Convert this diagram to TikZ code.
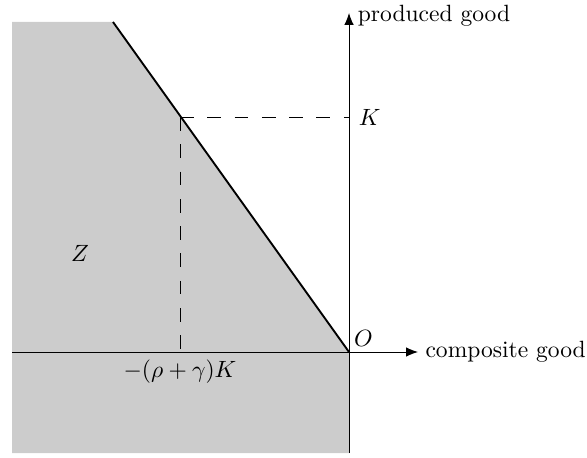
\documentclass[tikz,border=0pt]{standalone}
\usetikzlibrary{arrows.meta}
\begin{document}
\begin{tikzpicture}[x=0.425pt,y=-0.425pt,
  axis/.style={line width=0.4pt,-{Latex[length=5pt,width=4pt]}},
  dsh/.style={line width=0.4pt,dash pattern=on 5.8pt off 5.8pt},
  bound/.style={line width=0.8pt},
  region/.style={fill=black!20}]
\useasboundingbox (0,0) rectangle (587,458);
\coordinate (O) at (349,352);
\coordinate (T) at (113,22);
\coordinate (P) at (180,117);
\coordinate (Kp) at (349,117);
\coordinate (Xp) at (180,352);
\coordinate (xl) at (12,352);
\coordinate (xr) at (418,352);
\coordinate (yb) at (349,453);
\coordinate (yt) at (349,13);
\fill[region] (12,22) -- (T) -- (O) -- (yb) -- (12,453) -- cycle;
\draw[axis] (xl) -- (xr);
\draw[axis] (yb) -- (yt);
\draw[bound] (T) -- (O);
\draw[dsh] (P) -- (Kp);
\draw[dsh] (P) -- (Xp);
\node[anchor=west,inner sep=1pt] (xlab) at ([xshift=2pt]xr) {composite good};
\node[anchor=west,inner sep=1pt] (ylab) at (355,16) {produced good};
\node[anchor=south west,inner sep=2pt] (olab) at (O) {$O$};
\node[anchor=west,inner sep=1pt] (klab) at (356,117) {$K$};
\node[anchor=north,inner sep=3pt] (rlab) at (Xp) {$-(\rho+\gamma)K$};
\node (zlab) at (80,253) {$Z$};
\end{tikzpicture}
\end{document}
